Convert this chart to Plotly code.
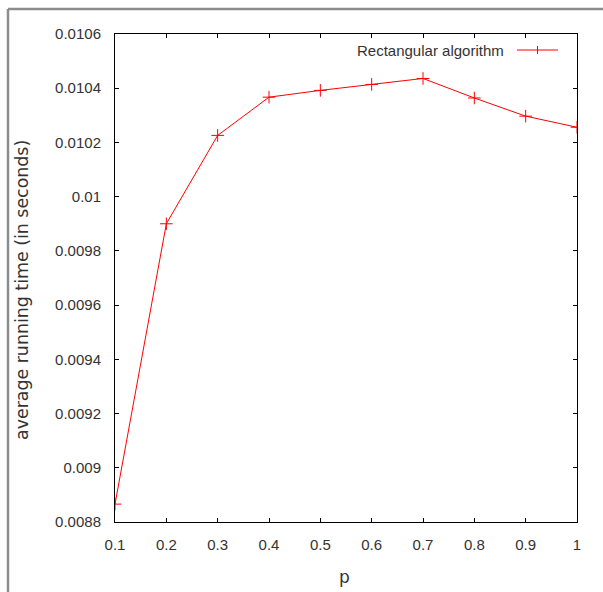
import plotly.graph_objects as go

p_values = [0.1, 0.2, 0.3, 0.4, 0.5, 0.6, 0.7, 0.8, 0.9, 1.0]
avg_time = [0.008866, 0.00990, 0.010226, 0.010367, 0.010392, 0.010414, 0.010436, 0.010364, 0.010297, 0.010256]
x_ticks = [0.1, 0.2, 0.3, 0.4, 0.5, 0.6, 0.7, 0.8, 0.9, 1.0]
x_tick_labels = ["0.1", "0.2", "0.3", "0.4", "0.5", "0.6", "0.7", "0.8", "0.9", "1"]
y_ticks = [0.0088, 0.009, 0.0092, 0.0094, 0.0096, 0.0098, 0.01, 0.0102, 0.0104, 0.0106]
y_tick_labels = ["0.0088", "0.009", "0.0092", "0.0094", "0.0096", "0.0098", "0.01", "0.0102", "0.0104", "0.0106"]

W, H = 603, 592
L, R, T, B = 115, 26, 34, 70
pw, ph = W - L - R, H - T - B

def px(x):
    return (x - L) / pw

def py(y):
    return (H - B - y) / ph

fig = go.Figure()
fig.add_trace(go.Scatter(
    x=p_values, y=avg_time, mode="lines+markers",
    name="Rectangular algorithm",
    line=dict(color="#ff0000", width=1),
    marker=dict(symbol="cross-thin", size=9, line=dict(color="#ff0000", width=1)),
    showlegend=False,
))

axis_common = dict(
    showgrid=False, zeroline=False, showline=True, linecolor="#000000", linewidth=1,
    mirror="ticks", ticks="inside", ticklen=4, tickcolor="#000000", tickwidth=1,
    tickfont=dict(family="Liberation Sans", size=15, color="#333333"),
)
fig.update_xaxes(range=[0.1, 1.0], tickvals=x_ticks, ticktext=x_tick_labels,
                 ticklabelstandoff=9, **axis_common)
fig.update_yaxes(range=[0.0088, 0.0106], tickvals=y_ticks, ticktext=y_tick_labels,
                 ticklabelstandoff=10, **axis_common)

# axis titles
fig.add_annotation(xref="paper", yref="paper", x=px(22), y=py(290), text="average running time (in seconds)",
                   textangle=-90, showarrow=False, xanchor="center", yanchor="middle",
                   font=dict(family="DejaVu Sans", size=17.4, color="#333333"))
fig.add_annotation(xref="paper", yref="paper", x=px(344), y=py(577), text="p",
                   showarrow=False, xanchor="center", yanchor="middle",
                   font=dict(family="DejaVu Sans", size=17, color="#333333"))

# legend drawn as annotation + sample line
fig.add_annotation(xref="paper", yref="paper", x=px(506), y=py(50), text="Rectangular algorithm",
                   showarrow=False, xanchor="right", yanchor="middle",
                   font=dict(family="Liberation Sans", size=15, color="#333333"))
fig.add_shape(type="line", xref="paper", yref="paper", x0=px(517), x1=px(558), y0=py(50), y1=py(50),
              line=dict(color="#ff0000", width=1))
fig.add_shape(type="line", xref="paper", yref="paper", x0=px(537.5), x1=px(537.5), y0=py(46), y1=py(54),
              line=dict(color="#ff0000", width=1))

# outer gray frame (left and top)
fig.add_shape(type="line", xref="paper", yref="paper", x0=px(8), x1=px(8), y0=py(9), y1=py(600),
              line=dict(color="#8c8c8c", width=2.5))
fig.add_shape(type="line", xref="paper", yref="paper", x0=px(8), x1=px(610), y0=py(9), y1=py(9),
              line=dict(color="#8c8c8c", width=2.5))

fig.update_layout(
    width=W, height=H, margin=dict(l=L, r=R, t=T, b=B),
    paper_bgcolor="#ffffff", plot_bgcolor="#ffffff",
    showlegend=False,
)
fig.write_html("out.html")
